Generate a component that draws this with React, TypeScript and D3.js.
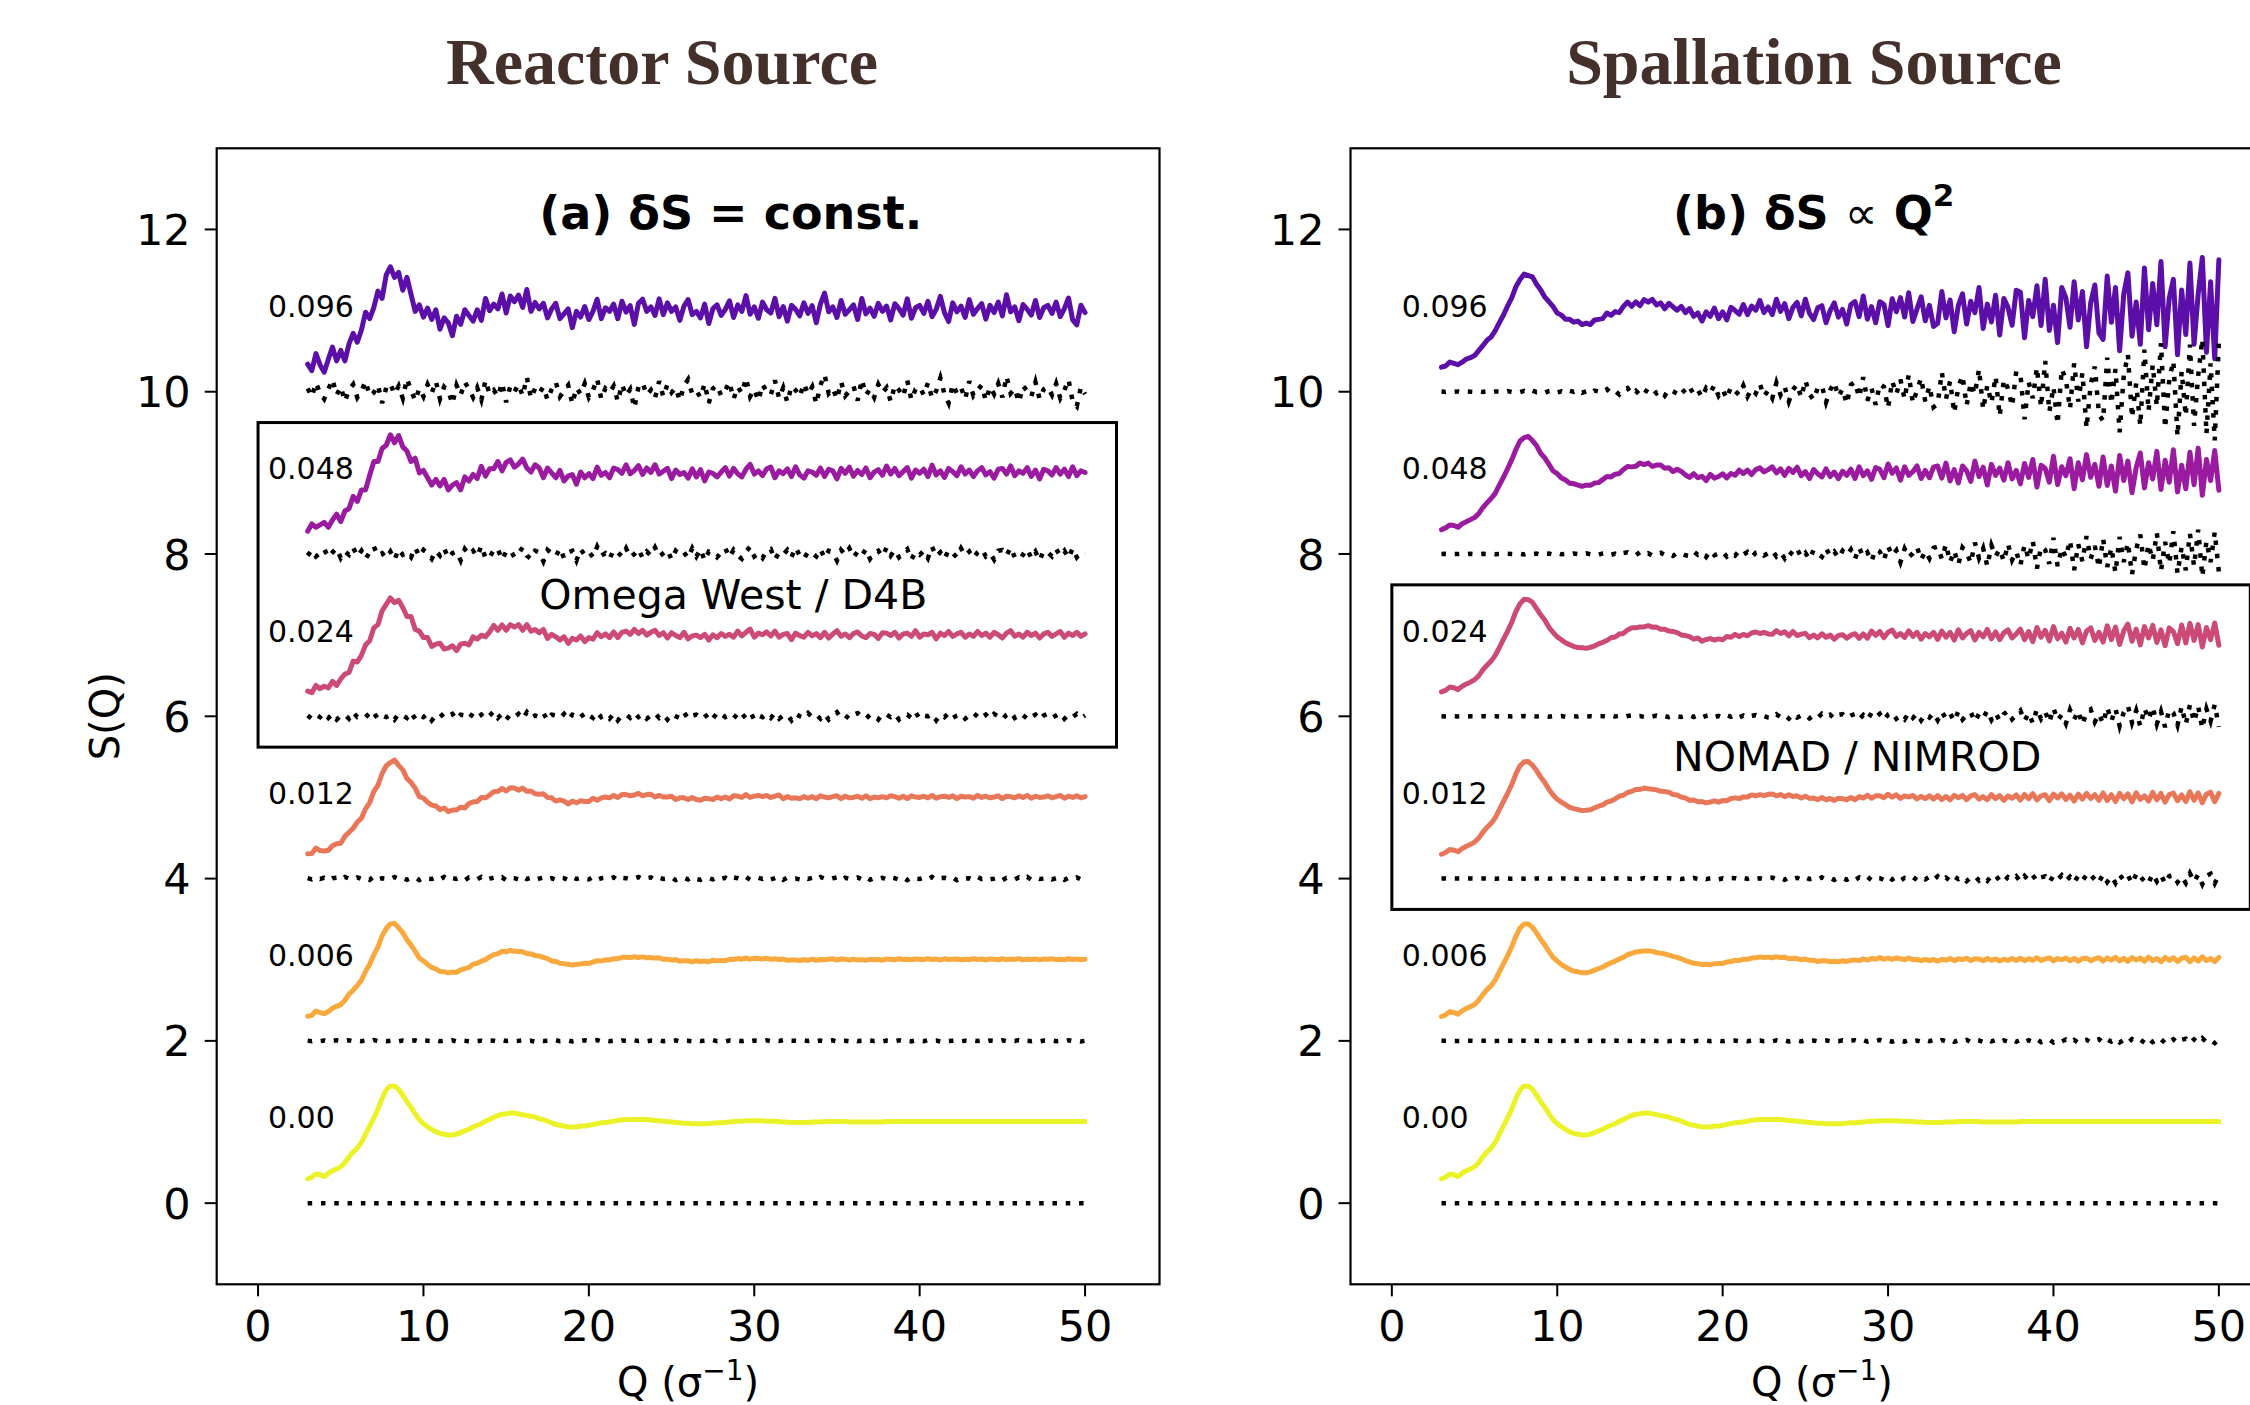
import React from "react";
import * as d3 from "d3";

// ---------------- data ----------------
const Q_START = 3;
const Q_STEP = 0.25; // grid 3 .. 50

// underlying S(Q) (step 0.25 from Q=3)
const S_BASE = [
  0.30, 0.32, 0.36, 0.35, 0.33, 0.37, 0.40, 0.42, 0.45, 0.50,
  0.57, 0.63, 0.68, 0.75, 0.85, 0.95, 1.05, 1.16, 1.29, 1.39,
  1.44, 1.44, 1.40, 1.33, 1.25, 1.18, 1.10, 1.03, 0.98, 0.94,
  0.91, 0.88, 0.86, 0.85, 0.84, 0.84, 0.85, 0.87, 0.89, 0.91,
  0.94, 0.96, 0.98, 1.01, 1.03, 1.06, 1.08, 1.095, 1.10, 1.11,
  1.11, 1.10, 1.09, 1.08, 1.07, 1.06, 1.04, 1.03, 1.01, 0.99,
  0.97, 0.96, 0.95, 0.94, 0.94, 0.94, 0.95, 0.95, 0.96, 0.97,
  0.98, 0.99, 0.995, 1.00, 1.01, 1.02, 1.025, 1.03, 1.03, 1.03,
  1.03, 1.03, 1.03, 1.025, 1.02, 1.015, 1.01, 1.005, 1.00, 0.995,
  0.99, 0.985, 0.985, 0.98, 0.98, 0.98, 0.98, 0.98, 0.985, 0.99,
  0.99, 0.995, 1.00, 1.005, 1.01, 1.01, 1.015, 1.015, 1.015, 1.015,
  1.015, 1.01, 1.01, 1.01, 1.005,
  1.0, 1.0, 0.995, 0.995, 0.995, 0.995, 0.995, 1.0, 1.0, 1.0,
  1.005, 1.005, 1.005, 1.005, 1.005, 1.005, 1.0, 1.0, 1.0, 1.0,
  1.0, 1.0, 1.0, 1.0, 1.0, 1.005, 1.005, 1.005, 1.005, 1.005,
  1.005, 1.005, 1.005, 1.005, 1.005, 1.005, 1.005, 1.005, 1.005, 1.005,
  1.005, 1.005, 1.005, 1.005, 1.005, 1.005, 1.005, 1.005, 1.005, 1.005,
  1.005, 1.005, 1.005, 1.005, 1.005, 1.005, 1.005, 1.005, 1.005, 1.005,
  1.005, 1.005, 1.005, 1.005, 1.005, 1.005, 1.005, 1.005, 1.005, 1.005,
  1.005, 1.005, 1.005, 1.005,
];

const LEVEL_LABELS = ["0.00", "0.006", "0.012", "0.024", "0.048", "0.096"];
const OFFSETS = [0, 2, 4, 6, 8, 10];
const COLORS = ["#ecf228", "#f8a83c", "#e8775a", "#cc4a78", "#9a1ba0", "#5c0fa8"];

const X_TICKS = [0, 10, 20, 30, 40, 50];
const Y_TICKS = [0, 2, 4, 6, 8, 10, 12];

// ---- noise, in thousandths ----
// (a) constant noise
const A006 = [
  3, -5, 8, -2, 5, -8, 2, 6, -4, 0, 7, -6, 3, -3, 5, -7, 10, -2, 4, -5,
  2, 8, -6, 4, -3, 0, 6, -9, 5, 2, -4, 7, -5, 3, -1, 8, -7, 4, 0, -5,
  6, -3, 2, -8, 5, 3, -6, 9, -2, 4, -5, 0, 7, -4, 2, -9, 6, -1, 3, -5,
  8, -4, 1, 5, -7, 3, -2, 6, -5, 0, 9, -6, 4, -3, 2, -8, 5, 1, -4, 7,
  -2, 5, -6, 3, 0, 8, -5, 2, -3, 6, -8, 4, 1, -6, 7, -2, 3, -5, 9, -4,
  2, -7, 5, -1, 4, -3, 6, -8, 3, 0, -5, 7, -4, 2, -2, 8, -6, 3, 1, -4,
  5, -2, 7, -6, 3, -4, 0, 6, -8, 4, 2, -5, 8, -3, 1, -7, 5, -1, 3, -6,
  4, 0, -5, 7, -3, 2, -6, 5, 1, -4, 8, -2, 3, -7, 6, -3, 0, 4, -5, 2,
  -3, 6, -2, 4, -8, 5, 1, -5, 7, -4, 3, -1, 9, -6, 2, -3, 5, -7, 4, 0,
  6, -4, 2, -5, 8, -2, 3, -6, 1,
];
const A012 = [
  5, -10, 15, -5, 10, -20, 5, 10, -15, 20, 0, -10, 15, -5, 10, -15, 25, -10, 5, 0,
  -10, 20, -5, 10, -15, 5, 15, -20, 10, 0, -5, 15, -10, 20, -15, 5, -5, 10, -20, 15,
  5, -10, 20, -15, 0, 10, -5, 15, -20, 10, 5, -10, 25, -5, 10, -15, 0, 15, -10, 5,
  -15, 10, 5, -20, 15, -5, 10, 0, -10, 20, -15, 5, 10, -5, 15, -20, 10, 5, -10, 0,
  20, -10, 5, 15, -15, 10, -5, 0, 15, -20, 5, 10, -10, 20, -5, -15, 10, 5, -10, 15,
  -5, 10, -20, 15, 5, -10, 20, -15, 0, 10, -5, 15, -10, 5, 25, -15, 10, -5, 0, -10,
  15, -5, 10, -15, 20, 0, -10, 5, 15, -20, 10, -5, 0, 15, -10, 20, -15, 5, -5, 10,
  -10, 15, 5, -15, 10, -20, 15, 0, -5, 10, -10, 20, -15, 5, 10, -5, 15, -20, 10, 0,
  5, -15, 20, -5, 10, -10, 0, 15, -20, 10, 5, -10, 15, -5, 20, -15, 10, -5, 0, 15,
  -10, 5, 20, -15, 10, -5, 15, -10, 5,
];
const A024 = [
  10, -30, 20, -10, 40, -20, 30, -40, 10, 20, -30, 50, -10, 0, 30, -20, 40, -30, 10, -10,
  20, -40, 30, 10, -20, 50, -30, 20, -10, 30, -50, 10, 40, -20, 0, 30, -40, 20, 10, -30,
  40, -10, 20, -30, 10, 60, -20, 30, -40, 20, -10, 30, -30, 50, -20, 10, -10, 40, -50, 20,
  10, -20, 30, -40, 20, 0, 40, -30, 10, -20, 50, -10, 20, -30, 30, -50, 10, 20, -20, 40,
  -10, 30, -30, 10, 40, -20, 20, -40, 30, 0, -20, 50, -30, 10, 20, -10, 30, -40, 20, -20,
  30, -10, 10, -30, 40, -20, 20, 60, -40, 10, -10, 30, -20, 40, -30, 10, 20, -50, 30, 0,
  -20, 40, -10, 20, -30, 30, -40, 10, 50, -20, 10, -30, 20, 40, -10, -30, 20, 10, -40, 30,
  20, -10, 30, -40, 10, 20, -20, 50, -30, 10, 0, 30, -50, 20, -10, 40, -20, 10, 30, -30,
  10, -20, 40, -10, 20, -30, 30, 0, -40, 20, 50, -20, 10, -30, 30, -10, 20, -40, 10, 30,
  -20, 10, 40, -30, 20, -10, 30, -20, 10,
];
const A048 = [
  -20, 50, -30, 10, 60, -40, 20, 70, -50, 30, -10, 80, -30, 40, -60, 20, 90, -20, 10, -50,
  30, -70, 60, -10, 20, -40, 80, -30, 50, 0, -60, 40, -20, 70, -50, 10, 30, -80, 60, -10,
  40, -30, 100, -50, 20, -10, 60, -70, 30, 50, -40, 10, 80, -20, -60, 40, 20, -90, 50, 10,
  -30, 70, -50, 20, 40, -80, 60, -10, 30, -40, 90, -20, 10, -60, 50, 20, -30, 70, -40, 0,
  60, -50, 30, -20, 80, -30, 10, 50, -70, 40, -10, 20, -50, 70, -30, 60, -80, 30, 10, -40,
  20, 70, -40, 50, -20, -60, 30, 90, -30, 10, -50, 40, 60, -70, 20, -10, 50, -40, 80, -20,
  -60, 30, 10, -30, 60, -50, 40, 20, -80, 50, -10, 70, -40, 30, -20, 60, -60, 10, 40, -30,
  80, -20, 50, -40, 10, 60, -70, 30, -10, 40, -50, 90, -30, 20, -60, 50, 10, -40, 70, -20,
  30, -50, 20, 60, -30, 10, -70, 40, 50, -20, 80, -40, 20, -10, 60, -50, 30, -80, 40, 20,
  -30, 60, -20, 40, -50, 70, -40, 20, 0,
];
const A096 = [
  40, -60, 110, -20, -90, 30, 150, -40, 60, -120, 20, 90, -70, 10, 130, -50, -10, 80, -140, 50,
  100, -30, 70, -80, 160, 20, -110, 40, -60, 90, -20, 130, -90, 60, 10, -150, 80, -40, 120, 30,
  -70, 50, -100, 140, -30, 20, -60, 110, -130, 70, 0, 90, -50, 180, -80, 40, -20, 60, -100, 30,
  120, -60, 10, 80, -150, 50, -30, 100, -70, 20, 160, -90, 40, -10, 70, -120, 90, -50, 30, -200,
  60, 110, -40, 20, -80, 130, -60, 90, -10, 50, -110, 70, 150, -30, 10, -70, 100, -140, 40, 80,
  -50, 20, 120, -90, 60, -20, 170, -60, 30, -110, 90, 0, -40, 140, -80, 50, -130, 70, 20, -60,
  100, -30, 60, -150, 80, 210, -20, 40, -90, 120, -50, 10, 70, -110, 150, -40, 30, -70, 90, -10,
  50, -120, 80, 20, -60, 140, -100, 30, 60, -40, 110, -80, 10, 170, -30, -140, 90, -20, 50, -90,
  130, -50, 20, 80, -110, 60, -30, 100, -70, 190, -20, 40, -130, 70, 10, -60, 120, -90, 30, 60,
  -40, 100, -80, 20, 150, -120, -180, 60, -30,
];

// (b) noise growing like Q^2
const B006 = [
  0, 0, 1, 0, -1, 0, 0, 1, -1, 0, 0, 1, 0, -1, 0, 1, 0, 0, -1, 0,
  1, -1, 0, 1, -1, 1, 0, -1, 2, -1, 0, 1, -2, 1, 0, -1, 1, 2, -1, 0,
  -2, 1, 3, -2, 0, 2, -3, 1, 2, -1, -2, 3, -1, 0, 2, -3, 2, -1, 1, -2,
  3, -4, 2, -1, 5, -3, 1, 4, -5, 2, -2, 4, -3, 6, -4, 1, -2, 5, -3, 2,
  -5, 7, -3, 6, -8, 2, 5, -6, 8, -2, 4, -7, 3, 6, -5, 1, -4, 8, -6, 3,
  8, -6, 10, -9, 4, -2, 11, -8, 5, -10, 7, 2, -9, 12, -6, 3, -11, 9, -4, 7,
  -12, 10, -5, 14, -11, 6, -3, 13, -14, 8, 4, -12, 15, -7, 10, -15, 6, -9, 16, -10,
  14, -17, 8, -12, 20, -15, 6, 18, -20, 10, -6, 16, -18, 12, -22, 9, 14, -16, 5, 20,
  -22, 18, -10, 25, -20, 12, -26, 22, -8, 15, -24, 28, -16, 10, -30, 24, -12, 20, -27, 14,
  26, -30, 18, -22, 32, -15, 10, -28, 24,
];
const B012 = [
  0, 1, -1, 0, 1, 0, -1, 1, 0, -1, 1, 0, 0, -1, 1, 0, 1, -1, 0, 1,
  -1, 2, -2, 1, 0, 3, -2, 1, -3, 2, 1, -2, 3, -1, 0, 2, -3, 1, 2, -1,
  3, -4, 2, 5, -3, 1, -5, 4, -2, 6, -4, 0, 3, -5, 2, 4, -3, 1, -6, 4,
  -6, 8, -4, 10, -7, 3, 9, -8, 2, -10, 6, 5, -9, 7, -3, 11, -6, 4, -8, 9,
  12, -10, 6, -15, 14, -4, 10, -13, 16, -7, 3, -12, 15, -9, 8, -16, 11, 5, -14, 10,
  -18, 15, -8, 22, -20, 10, 6, -17, 24, -12, 18, -22, 9, -5, 20, -19, 14, -10, 25, -15,
  28, -22, 12, -30, 26, -8, 20, -32, 15, 30, -25, 10, -28, 34, -14, 22, -35, 18, -10, 30,
  -38, 32, -20, 42, -35, 15, 28, -45, 36, -12, 40, -30, 22, -48, 35, -25, 45, -18, 30, -40,
  50, -42, 28, -55, 46, -20, 38, -60, 52, -30, 15, -50, 58, -35, 44, -62, 30, 48, -45, 25,
  -55, 65, -40, 50, -70, 35, 60, -58, 45,
];
const B024 = [
  1, -1, 0, 2, -1, 1, -2, 0, 1, -1, 2, -1, 0, 1, -2, 1, 0, -1, 2, -1,
  3, -2, 4, -3, 1, 5, -4, 2, -1, 4, -5, 3, 0, -3, 5, -2, 1, -4, 3, 2,
  -6, 8, -3, 5, -9, 4, 10, -5, 2, -8, 7, -2, 9, -6, 3, -10, 6, 1, -7, 5,
  12, -8, 15, -14, 6, 18, -10, 4, -16, 13, -5, 20, -12, 9, -18, 7, 14, -9, 3, -15,
  -20, 25, -10, 18, -28, 30, -15, 8, 22, -26, 12, -18, 32, -6, 20, -30, 16, 26, -22, 10,
  28, -35, 15, -42, 40, -12, 30, -45, 22, 48, -30, 10, -38, 44, -20, 35, -50, 25, -15, 40,
  -48, 55, -25, 35, -60, 62, -40, 18, 50, -65, 30, -22, 70, -45, 40, -55, 28, 65, -35, 15,
  70, -60, 40, -85, 90, -30, 55, -75, 100, -50, 20, -90, 80, -40, 65, -100, 45, 85, -70, 30,
  -90, 110, -60, 95, -120, 50, 130, -80, 70, -125, 100, -40, 115, -95, 60, -135, 85, 40, -110, 120,
  -100, 140, -70, 125, -150, 90, -60, 145, -130,
];
const B048 = [
  -1, 2, -3, 1, 0, 3, -2, 4, -1, -3, 2, 0, 4, -2, 1, -4, 3, 1, -2, 3,
  -5, 8, -2, 6, -9, 3, 5, -7, 10, -4, 2, -8, 6, 0, -6, 9, -3, 4, -10, 7,
  15, -10, 4, -18, 12, 20, -6, -14, 22, -8, 10, -20, 6, 16, -12, 3, -24, 14, 8, -16,
  -25, 30, -10, 18, -35, 40, -15, 5, 28, -32, 12, -20, 38, -8, 24, -40, 15, 32, -18, 10,
  45, -30, 20, -55, 35, -10, 60, -40, 15, -65, 50, 5, -35, 70, -25, 30, -50, 40, -15, 55,
  -60, 80, -35, 20, -90, 55, 30, -75, 95, -20, 45, -100, 65, -40, 10, 85, -70, 35, -55, 75,
  90, -60, 120, -100, 40, -130, 80, 20, -110, 140, -50, 70, -150, 105, -30, 60, -90, 125, -75, 30,
  -140, 110, -60, 160, -180, 90, 50, -120, 200, -150, 70, -40, 170, -200, 120, -90, 220, -60, 100, -170,
  190, -160, 80, -230, 210, -100, 140, -250, 60, 240, -190, 120, -80, 260, -210, 150, -120, 280, -240, 90,
  -200, 250, -150, 300, -280, 160, -100, 270, -220,
];
const B096 = [
  2, -3, 5, -1, 4, -6, 3, 0, -4, 6, -2, 5, -7, 3, 1, -5, 8, -3, 4, -6,
  10, -8, 15, -5, 3, -14, 9, 18, -10, 4, -16, 12, -3, 20, -12, 6, -22, 14, 2, -9,
  30, -18, 8, -35, 22, 45, -28, 12, -40, 25, -6, 38, -20, 15, -48, 30, 5, -25, 42, -15,
  55, -30, 20, -70, 45, -12, 80, -50, 25, -85, 60, 10, -40, 75, -60, 35, -20, 95, -55, 15,
  -80, 110, -40, 60, -120, 25, 90, -70, 140, -30, -100, 50, 75, -130, 20, 115, -60, 35, -150, 85,
  120, -70, 180, -110, 40, -160, 95, 60, -200, 130, -30, 150, -90, 210, -140, 20, 170, -120, 70, -190,
  -150, 240, -90, 130, -260, 60, 200, -170, 110, -30, 280, -220, 80, -140, 190, -300, 150, 40, -180, 250,
  220, -340, 120, -80, 300, -190, 380, -250, 60, -400, 280, 150, -210, 350, -120, 230, -450, 90, 310, -280,
  -360, 420, -150, 280, -500, 200, 460, -320, 100, -420, 520, -240, 330, -180, 600, -450, 150, 380, -550, 250,
  -300, 580, -420, 200, 650, -520, 350, -600, 620,
];

const NOISE_A = [null, A006, A012, A024, A048, A096];
const NOISE_B = [null, B006, B012, B024, B048, B096];

// ---------------- layout ----------------
const W = 2250;
const H = 1405;
const TOP = 148.3;
const BOTTOM = 1284.3;
const FONT = "'DejaVu Sans', 'Noto Sans', sans-serif";

type PanelProps = {
  x0: number;
  x1: number;
  noises: (number[] | null)[];
  title: React.ReactNode;
  box: [number, number];
  boxLabel: string;
  showYLabel: boolean;
};

function Panel({ x0, x1, noises, title, box, boxLabel, showYLabel }: PanelProps) {
  const x = d3.scaleLinear().domain([-2.5, 54.5]).range([x0, x1]);
  const y = d3.scaleLinear().domain([-1, 13]).range([BOTTOM, TOP]);
  const qs = S_BASE.map((_, i) => Q_START + i * Q_STEP);

  const smooth = d3
    .line<[number, number]>()
    .x((d) => x(d[0]))
    .y((d) => y(d[1]))
    .curve(d3.curveMonotoneX);
  const jagged = d3
    .line<[number, number]>()
    .x((d) => x(d[0]))
    .y((d) => y(d[1]));

  const series = OFFSETS.map((off, k) => {
    const nz = noises[k];
    const curve: [number, number][] = qs.map((q, i) => [
      q,
      S_BASE[i] + off + (nz ? (nz[i] ?? 0) / 1000 : 0),
    ]);
    const resid: [number, number][] = qs.map((q, i) => [
      q,
      off + (nz ? (nz[i] ?? 0) / 1000 : 0),
    ]);
    return { k, off, curve, resid, noisy: !!nz };
  });

  return (
    <g>
      {/* inset box */}
      <rect
        x={x(0)}
        y={y(box[1])}
        width={x(51.9) - x(0)}
        height={y(box[0]) - y(box[1])}
        fill="none"
        stroke="#000"
        strokeWidth={3}
      />
      <text
        x={x(17)}
        y={y((box[0] + box[1]) / 2 - 0.12)}
        fontFamily={FONT}
        fontSize={41}
        dominantBaseline="central"
        fill="#000"
      >
        {boxLabel}
      </text>

      {series.map((s) => (
        <g key={s.k}>
          <path
            d={(s.noisy ? jagged(s.curve) : smooth(s.curve)) || ""}
            fill="none"
            stroke={COLORS[s.k]}
            strokeWidth={5}
            strokeLinejoin="round"
            strokeLinecap="round"
          />
          <path
            d={jagged(s.resid) || ""}
            fill="none"
            stroke="#000"
            strokeWidth={4.5}
            strokeDasharray="4.5 8.8"
          />
          <text
            x={x(0.6)}
            y={y(s.off + 1.05)}
            fontFamily={FONT}
            fontSize={30}
            dominantBaseline="central"
            fill="#000"
          >
            {LEVEL_LABELS[s.k]}
          </text>
        </g>
      ))}

      {/* panel title */}
      <text
        x={x(17)}
        y={y(12.2)}
        fontFamily={FONT}
        fontSize={46}
        fontWeight="bold"
        dominantBaseline="central"
        fill="#000"
      >
        {title}
      </text>

      {/* frame */}
      <rect
        x={x0}
        y={TOP}
        width={x1 - x0}
        height={BOTTOM - TOP}
        fill="none"
        stroke="#000"
        strokeWidth={2.2}
      />

      {/* x ticks */}
      {X_TICKS.map((t) => (
        <g key={"x" + t}>
          <line x1={x(t)} x2={x(t)} y1={BOTTOM} y2={BOTTOM + 12} stroke="#000" strokeWidth={2} />
          <text
            x={x(t)}
            y={BOTTOM + 57}
            fontFamily={FONT}
            fontSize={43}
            textAnchor="middle"
            fill="#000"
          >
            {t}
          </text>
        </g>
      ))}
      {/* y ticks */}
      {Y_TICKS.map((t) => (
        <g key={"y" + t}>
          <line x1={x0 - 12} x2={x0} y1={y(t)} y2={y(t)} stroke="#000" strokeWidth={2} />
          <text
            x={x0 - 26}
            y={y(t) + 15.5}
            fontFamily={FONT}
            fontSize={43}
            textAnchor="end"
            fill="#000"
          >
            {t}
          </text>
        </g>
      ))}

      {/* x label */}
      <text
        x={(x0 + x1) / 2}
        y={1396}
        fontFamily={FONT}
        fontSize={40}
        textAnchor="middle"
        fill="#000"
      >
        Q (σ
        <tspan dy={-16} fontSize={28}>
          −1
        </tspan>
        <tspan dy={16}>)</tspan>
      </text>

      {showYLabel && (
        <text
          transform={`translate(105, ${(TOP + BOTTOM) / 2}) rotate(-90)`}
          fontFamily={FONT}
          fontSize={40}
          textAnchor="middle"
          dominantBaseline="central"
          fill="#000"
        >
          S(Q)
        </text>
      )}
    </g>
  );
}

export default function App() {
  return (
    <svg
      width={W}
      height={H}
      viewBox={`0 0 ${W} ${H}`}
      style={{ position: "absolute", left: 0, top: 0, display: "block", background: "#fff" }}
    >
      <rect x={0} y={0} width={W} height={H} fill="#fff" />
      <text
        x={662}
        y={84}
        fontFamily="'Liberation Serif', 'Times New Roman', serif"
        fontWeight="bold"
        fontSize={66}
        textAnchor="middle"
        fill="#43302a"
      >
        Reactor Source
      </text>
      <text
        x={1814}
        y={84}
        fontFamily="'Liberation Serif', 'Times New Roman', serif"
        fontWeight="bold"
        fontSize={66}
        textAnchor="middle"
        fill="#43302a"
      >
        Spallation Source
      </text>

      <Panel
        x0={216.7}
        x1={1159.5}
        noises={NOISE_A}
        title="(a) δS = const."
        box={[5.62, 9.62]}
        boxLabel="Omega West / D4B"
        showYLabel={true}
      />
      <Panel
        x0={1350.5}
        x1={2293.3}
        noises={NOISE_B}
        title={
          <>
            (b) δS <tspan fontWeight="normal">∝</tspan> Q
            <tspan dy={-18} fontSize={31}>
              2
            </tspan>
          </>
        }
        box={[3.62, 7.62]}
        boxLabel="NOMAD / NIMROD"
        showYLabel={false}
      />
    </svg>
  );
}
